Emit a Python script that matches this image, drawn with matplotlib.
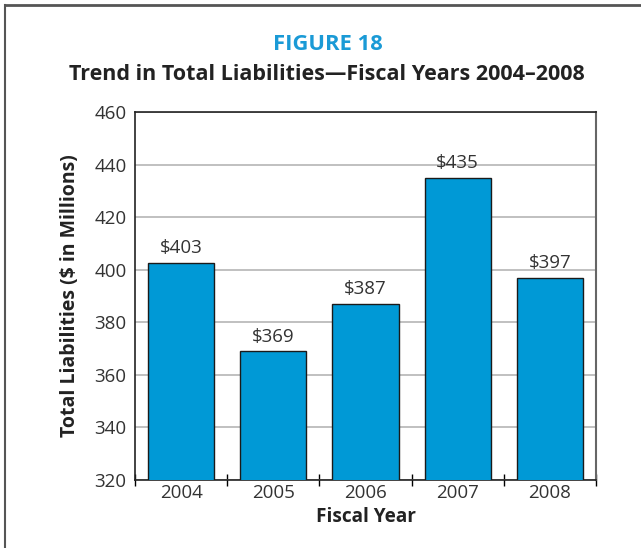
import matplotlib
matplotlib.use("Agg")
import matplotlib.pyplot as plt
from matplotlib.lines import Line2D

years = ["2004", "2005", "2006", "2007", "2008"]
liabilities = [402.7, 369, 387, 435, 397]
bar_labels = ["$403", "$369", "$387", "$435", "$397"]
yticks = [320, 340, 360, 380, 400, 420, 440, 460]

plt.rcParams['font.family'] = ['Open Sans', 'DejaVu Sans']

fig = plt.figure(figsize=(6.41, 5.48), dpi=100)
ax = fig.add_axes([135/641, 1-480/548, 461/641, 368/548])

x = list(range(len(years)))
ax.bar(x, liabilities, width=0.72, color="#0099d6", edgecolor="#1a1a1a",
       linewidth=1.0, zorder=3)
for xi, v, lab in zip(x, liabilities, bar_labels):
    ax.annotate(lab, (xi, v), xytext=(0, 4), textcoords="offset points",
                ha="center", va="bottom", fontsize=13.5, color="#333333")

ax.set_xlim(-0.5, 4.5)
ax.set_ylim(320, 460)
ax.set_yticks(yticks)
ax.set_yticklabels([str(t) for t in yticks], fontsize=13.5, color="#333333")
ax.set_xticks(x)
ax.set_xticklabels(years, fontsize=13.5, color="#333333")
ax.tick_params(axis="y", which="major", length=0, pad=6)
ax.tick_params(axis="x", which="major", length=0, pad=3)
ax.set_yticks([320, 460], minor=True)
ax.set_xticks([-0.5, 0.5, 1.5, 2.5, 3.5, 4.5], minor=True)
ax.tick_params(axis="y", which="minor", length=5, direction="out", width=1)
ax.tick_params(axis="x", which="minor", length=9, direction="inout", width=1)

ax.grid(axis="y", color="#b5b5b5", linewidth=1.2, zorder=0)
ax.set_axisbelow(True)
for s in ["left", "top", "bottom"]:
    ax.spines[s].set_color("#222222")
    ax.spines[s].set_linewidth(1.2)
ax.spines["right"].set_color("#666666")
ax.spines["right"].set_linewidth(1.5)

ax.set_xlabel("Fiscal Year", fontsize=13.7, fontweight="bold", color="#222222")
ax.xaxis.set_label_coords(0.5, -(517-480)/368, transform=ax.transAxes)
ax.xaxis.label.set_va("center")
ax.set_ylabel("Total Liabilities ($ in Millions)", fontsize=14, fontweight="bold",
              color="#222222")
ax.yaxis.set_label_coords(-(135-70)/461, 0.5 + (368/2 - (296-112))/368)
ax.yaxis.label.set_va("center")

fig.text(328/641, 1-45/548, "FIGURE 18", ha="center", va="center",
         fontsize=15.8, fontweight="bold", color="#1a9ad6")
fig.text(327/641, 1-75/548, "Trend in Total Liabilities\u2014Fiscal Years 2004\u20132008",
         ha="center", va="center", fontsize=15.5, fontweight="bold", color="#222222")

# outer frame (top and left edges)
fig.add_artist(Line2D([5/641, 5/641], [0, 1-5/548], transform=fig.transFigure,
                      color="#555555", linewidth=1.5))
fig.add_artist(Line2D([5/641, 1], [1-5/548, 1-5/548], transform=fig.transFigure,
                      color="#555555", linewidth=2))

fig.savefig("out.png", dpi=100)
